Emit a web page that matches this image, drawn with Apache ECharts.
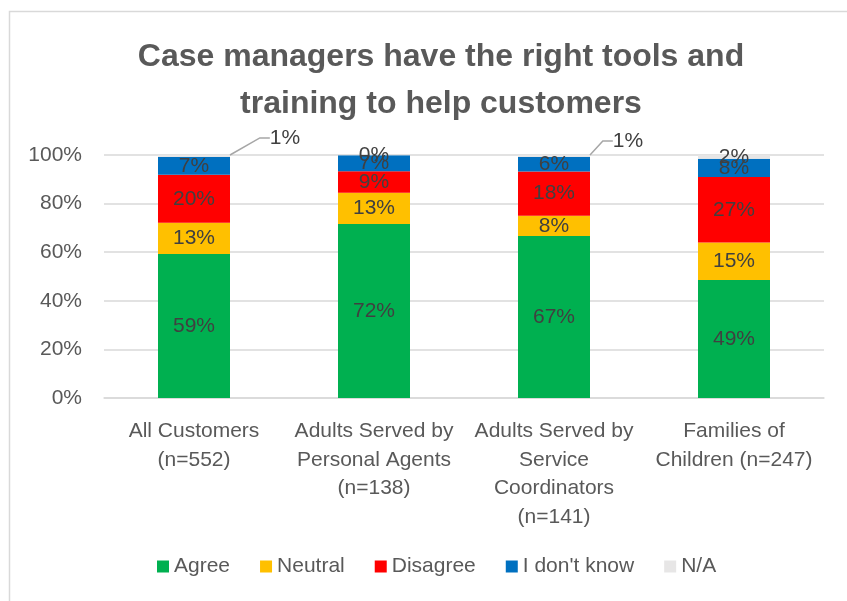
<!DOCTYPE html>
<html>
<head>
<meta charset="utf-8">
<script src="https://cdn.jsdelivr.net/npm/echarts@6/dist/echarts.min.js"></script>
<style>
  html, body { margin: 0; padding: 0; background: #fff; }
  #container { width: 847px; height: 601px; }
</style>
</head>
<body>
<div id="container"></div>
<script>
var categories = [
  'All Customers\n(n=552)',
  'Adults Served by\nPersonal Agents\n(n=138)',
  'Adults Served by\nService\nCoordinators\n(n=141)',
  'Families of\nChildren (n=247)'
];
var agree    = [59.3, 71.6, 66.7, 48.6];
var neutral  = [12.8, 12.9, 8.3, 15.4];
var disagree = [19.8, 8.8, 18.2, 26.9];
var dontKnow = [7.3, 6.6, 6.0, 7.6];
var notApp   = [0.8, 0.2, 0.8, 1.6];
var yTicks   = [0, 20, 40, 60, 80, 100];

var FONT = '"Liberation Sans", Arial, sans-serif';

function pctLabel(p){
  return Math.round(p.value) + '%';
}

function makeSeries(name, values, color){
  return {
    name: name,
    type: 'bar',
    stack: 'total',
    barWidth: 72,
    data: values,
    itemStyle: { color: color },
    label: {
      show: true,
      position: 'inside',
      formatter: pctLabel,
      color: '#404040',
      fontSize: 21,
      fontFamily: FONT
    }
  };
}

var series = [
  makeSeries('Agree', agree, '#00B050'),
  makeSeries('Neutral', neutral, '#FFC000'),
  makeSeries('Disagree', disagree, '#FF0000'),
  makeSeries("I don't know", dontKnow, '#0070C0'),
  makeSeries('N/A', notApp.map(function(v, i){
    if(i == 0 || i == 2){
      return { value: v, labelLine: { show: true } };
    }
    return v;
  }), '#E7E6E6')
];
series[4].labelLine = {
  show: false,
  length2: 10,
  lineStyle: { color: '#A6A6A6', width: 1.5 }
};

// leader-line offsets for the small N/A labels
var naShift = { 0: [91, -18], 2: [74, -15] };

var chart = echarts.init(document.getElementById('container'));
var option = {
  animation: false,
  textStyle: { fontFamily: FONT },
  title: {
    text: 'Case managers have the right tools and\ntraining to help customers',
    left: 436,
    textAlign: 'center',
    top: 29,
    textStyle: {
      fontFamily: FONT,
      fontSize: 32,
      fontWeight: 'bold',
      color: '#595959',
      lineHeight: 47
    }
  },
  legend: {
    bottom: 19,
    left: 152,
    icon: 'rect',
    itemWidth: 12,
    itemHeight: 12,
    itemGap: 30,
    textStyle: { fontSize: 21, color: '#595959', fontFamily: FONT },
    data: ['Agree', 'Neutral', 'Disagree', "I don't know", 'N/A']
  },
  grid: {
    left: 104,
    right: 23,
    top: 155,
    bottom: 203,
    containLabel: false
  },
  xAxis: {
    type: 'category',
    data: categories,
    axisLine: { lineStyle: { color: '#D9D9D9', width: 1.5 } },
    axisTick: { show: false },
    axisLabel: {
      interval: 0,
      margin: 19,
      fontSize: 21,
      lineHeight: 28.5,
      color: '#595959',
      fontFamily: FONT
    }
  },
  yAxis: {
    type: 'value',
    min: yTicks[0],
    max: yTicks[yTicks.length - 1],
    interval: yTicks[1] - yTicks[0],
    axisLine: { show: false },
    axisTick: { show: false },
    axisLabel: {
      formatter: '{value}%',
      fontSize: 21,
      margin: 22,
      color: '#595959',
      fontFamily: FONT
    },
    splitLine: { lineStyle: { color: '#D9D9D9', width: 1.5 } }
  },
  labelLayout: function(params){
    if(params.seriesIndex == 4 && naShift[params.dataIndex]){
      var s = naShift[params.dataIndex];
      return { dx: s[0], dy: s[1] };
    }
    return {};
  },
  graphic: [{
    type: 'rect',
    left: 7,
    top: 9,
    shape: { width: 845, height: 600 },
    style: { fill: 'none', stroke: '#D9D9D9', lineWidth: 1.5 },
    silent: true
  }],
  series: series
};
chart.setOption(option);
</script>
</body>
</html>
